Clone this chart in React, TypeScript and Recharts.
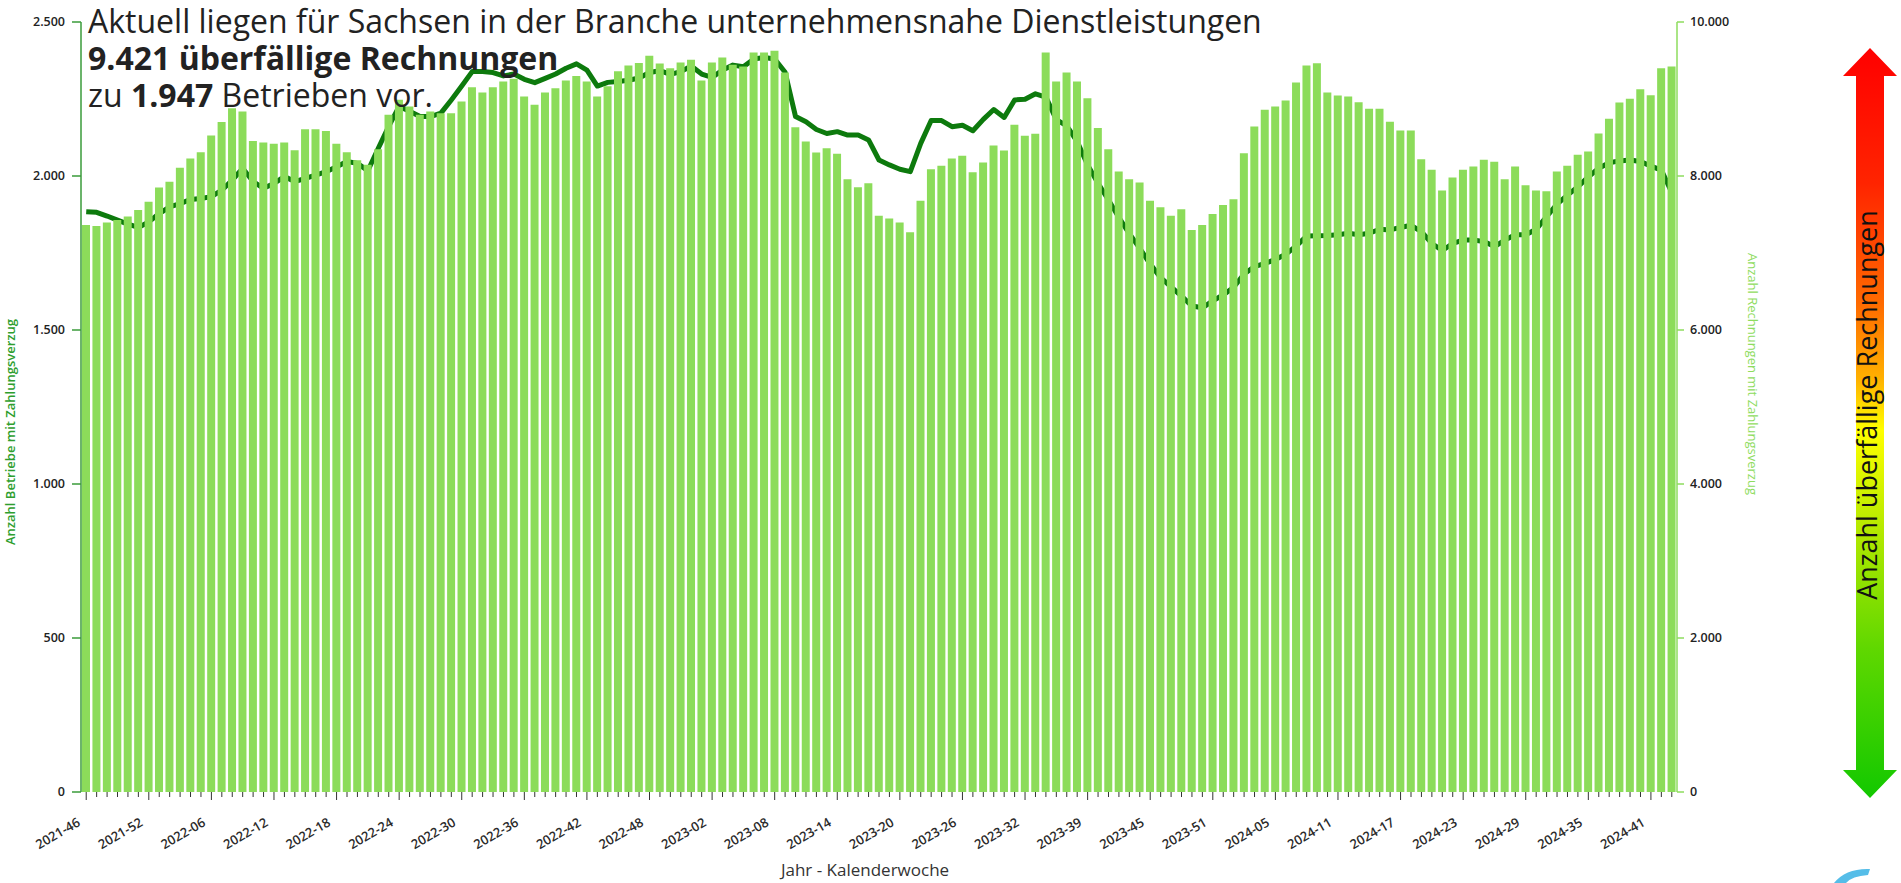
import { ComposedChart, Bar, Line, XAxis, YAxis } from "recharts";

// Kalenderwochen (2023 has one week missing in the source data)
function weekRange(year: number, from: number, to: number, skip: number[] = []) {
  const out: string[] = [];
  for (let w = from; w <= to; w++) {
    if (skip.includes(w)) continue;
    out.push(`${year}-${String(w).padStart(2, "0")}`);
  }
  return out;
}

const weeks = [
  ...weekRange(2021, 46, 52),
  ...weekRange(2022, 1, 52),
  ...weekRange(2023, 1, 52, [33]),
  ...weekRange(2024, 1, 43),
];

// Anzahl Rechnungen mit Zahlungsverzug (bars, right axis)
const rechnungen = [
  7365, 7352, 7395, 7430, 7473, 7560, 7664, 7850, 7924, 8106,
  8227, 8310, 8526, 8700, 8881, 8837, 8456, 8435, 8418, 8435,
  8336, 8608, 8608, 8586, 8418, 8310, 8206, 8145, 8349, 8794,
  8990, 8902, 8794, 8837, 8816, 8816, 8967, 9153, 9084, 9153,
  9227, 9262, 9032, 8924, 9084, 9140, 9240, 9300, 9227, 9032,
  9165, 9360, 9435, 9468, 9563, 9462, 9400, 9474, 9509, 9240,
  9474, 9539, 9444, 9422, 9604, 9604, 9626, 9344, 8634, 8448,
  8305, 8361, 8288, 7959, 7855, 7907, 7483, 7448, 7396, 7270,
  7677, 8089, 8132, 8227, 8262, 8050, 8175, 8396, 8331, 8665,
  8522, 8548, 9604, 9227, 9344, 9227, 9011, 8622, 8349, 8059,
  7959, 7916, 7677, 7595, 7483, 7569, 7300, 7365, 7508, 7625,
  7699, 8296, 8643, 8859, 8902, 8980, 9214, 9435, 9465, 9084,
  9045, 9032, 8959, 8872, 8872, 8703, 8591, 8591, 8218, 8080,
  7811, 7980, 8080, 8123, 8210, 8184, 7959, 8123, 7881, 7811,
  7803, 8058, 8132, 8275, 8318, 8552, 8742, 8954, 9002, 9128,
  9050, 9400, 9421,
];

// Anzahl Betriebe mit Zahlungsverzug (line, left axis)
const betriebe = [
  1884, 1882, 1870, 1857, 1844, 1833, 1851, 1878, 1900, 1910,
  1924, 1927, 1933, 1954, 1987, 2025, 1982, 1960, 1976, 1998,
  1982, 1992, 2003, 2014, 2030, 2047, 2041, 2017, 2090, 2161,
  2226, 2210, 2193, 2193, 2204, 2247, 2292, 2339, 2339, 2336,
  2325, 2331, 2314, 2303, 2317, 2331, 2350, 2364, 2344, 2292,
  2304, 2307, 2311, 2318, 2336, 2342, 2330, 2339, 2357, 2331,
  2320, 2344, 2360, 2355, 2380, 2385, 2380, 2337, 2193, 2176,
  2151, 2138, 2144, 2133, 2133, 2117, 2052, 2036, 2022, 2014,
  2106, 2180, 2180, 2160, 2165, 2147, 2184, 2216, 2190, 2247,
  2249, 2267, 2256, 2183, 2163, 2112, 2036, 1976, 1922, 1865,
  1813, 1765, 1714, 1670, 1640, 1610, 1578, 1572, 1595, 1614,
  1639, 1682, 1706, 1716, 1729, 1746, 1773, 1805, 1806, 1807,
  1809, 1814, 1809, 1814, 1827, 1825, 1833, 1840, 1819, 1781,
  1758, 1781, 1792, 1792, 1787, 1771, 1792, 1809, 1809, 1827,
  1868, 1909, 1938, 1965, 1997, 2025, 2043, 2049, 2052, 2047,
  2032, 2019, 1947,
];

const leftTicks = [0, 500, 1000, 1500, 2000, 2500];
const rightTicks = [0, 2000, 4000, 6000, 8000, 10000];

const data = weeks.map((week, i) => ({
  week,
  rechnungen: rechnungen[i],
  betriebe: betriebe[i],
}));

const fmt = (v: number) => String(v).replace(/\B(?=(\d{3})+(?!\d))/g, ".");

const FONT = "'Open Sans', sans-serif";

function WeekTick(props: any) {
  const { x, y, payload } = props;
  const i = weeks.indexOf(payload.value);
  const major = i % 6 === 0;
  const tx = x - 5;
  const ty = y + 33;
  return (
    <g>
      <line x1={x} x2={x} y1={y} y2={y + (major ? 8 : 5)} stroke="#333" strokeWidth={1} />
      {major && (
        <text
          x={tx}
          y={ty}
          textAnchor="end"
          transform={`rotate(-30, ${tx}, ${ty})`}
          fontSize={13}
          fontWeight={600}
          fontFamily={FONT}
          fill="#2a2a2a"
        >
          {payload.value}
        </text>
      )}
    </g>
  );
}

export default function App() {
  return (
    <div style={{ position: "relative", width: 1901, height: 883, fontFamily: FONT }}>
      <style>{`body{margin:0}`}</style>
      <ComposedChart
        width={1901}
        height={883}
        data={data}
        margin={{ top: 22, right: 164, bottom: 0, left: 0 }}
        barCategoryGap={1}
      >
        <XAxis
          dataKey="week"
          interval={0}
          axisLine={false}
          tickLine={false}
          tickSize={0}
          tickMargin={0}
          height={91}
          tick={<WeekTick />}
        />
        <YAxis
          yAxisId="left"
          domain={[0, 2500]}
          ticks={leftTicks}
          width={81}
          tickFormatter={fmt}
          axisLine={{ stroke: "#3a9b3a", strokeWidth: 1.5 }}
          tickLine={{ stroke: "#3a9b3a", strokeWidth: 1.5 }}
          tickSize={9}
          tickMargin={7}
          tick={{ fontSize: 12.5, fontWeight: 600, fill: "#222", fontFamily: FONT }}
        />
        <YAxis
          yAxisId="right"
          orientation="right"
          domain={[0, 10000]}
          ticks={rightTicks}
          width={60}
          tickFormatter={fmt}
          axisLine={{ stroke: "#8edc5e", strokeWidth: 1.5 }}
          tickLine={{ stroke: "#8edc5e", strokeWidth: 1.5 }}
          tickSize={7}
          tickMargin={6}
          tick={{ fontSize: 12.5, fontWeight: 600, fill: "#222", fontFamily: FONT }}
        />
        <Line
          yAxisId="left"
          dataKey="betriebe"
          type="linear"
          stroke="#0d7a0d"
          strokeWidth={5}
          strokeLinejoin="round"
          dot={false}
          activeDot={false}
          isAnimationActive={false}
          zIndex={400}
        />
        <Bar
          yAxisId="right"
          dataKey="rechnungen"
          fill="#8cdc5a"
          isAnimationActive={false}
          zIndex={500}
        />
      </ComposedChart>

      <svg
        width={1901}
        height={883}
        style={{ position: "absolute", left: 0, top: 0, pointerEvents: "none" }}
      >
        <defs>
          <linearGradient id="arrowGrad" x1="0" y1="0" x2="0" y2="1">
            <stop offset="0%" stopColor="#ff0000" />
            <stop offset="18%" stopColor="#ff2400" />
            <stop offset="34%" stopColor="#ff6a00" />
            <stop offset="44%" stopColor="#ffb000" />
            <stop offset="51%" stopColor="#ffff00" />
            <stop offset="65%" stopColor="#b0e800" />
            <stop offset="80%" stopColor="#60d800" />
            <stop offset="100%" stopColor="#12c800" />
          </linearGradient>
        </defs>

        <g fontFamily={FONT} fontSize={32} fill="#222">
          <text x={88} y={33}>
            Aktuell liegen für Sachsen in der Branche unternehmensnahe Dienstleistungen
          </text>
          <text x={88} y={70} fontWeight={700}>
            9.421 überfällige Rechnungen
          </text>
          <text x={88} y={107}>
            zu <tspan fontWeight={700}>1.947</tspan> Betrieben vor.
          </text>
        </g>

        <text
          x={12}
          y={432}
          transform="rotate(-90, 12, 432)"
          textAnchor="middle"
          dominantBaseline="middle"
          fontSize={13}
          fontWeight={600}
          fill="#2e9e2e"
          fontFamily={FONT}
        >
          Anzahl Betriebe mit Zahlungsverzug
        </text>
        <text
          x={1751}
          y={374}
          transform="rotate(90, 1751, 374)"
          textAnchor="middle"
          dominantBaseline="middle"
          fontSize={13}
          fill="#8edc5e"
          fontFamily={FONT}
        >
          Anzahl Rechnungen mit Zahlungsverzug
        </text>
        <text
          x={865}
          y={871}
          textAnchor="middle"
          dominantBaseline="middle"
          fontSize={17}
          fill="#333"
          fontFamily={FONT}
        >
          Jahr - Kalenderwoche
        </text>

        <path
          d="M1870 48 L1897 76 L1884 76 L1884 770 L1897 770 L1870 798 L1843 770 L1856 770 L1856 76 L1843 76 Z"
          fill="url(#arrowGrad)"
        />
        <text
          x={1870}
          y={405}
          transform="rotate(-90, 1870, 405)"
          textAnchor="middle"
          dominantBaseline="middle"
          fontSize={27}
          fill="#111"
          fontFamily={FONT}
        >
          Anzahl überfällige Rechnungen
        </text>

        <path d="M1834 883 Q1846 868 1870 869 L1868 875 Q1852 876 1846 883 Z" fill="#55bde8" />
      </svg>
    </div>
  );
}
